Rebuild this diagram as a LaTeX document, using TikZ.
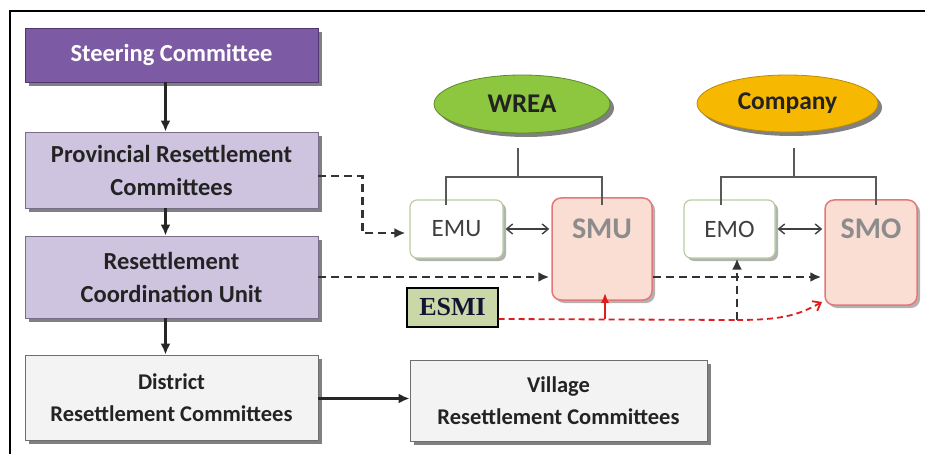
\documentclass[tikz,border=0pt]{standalone}
\usepackage{fontspec}
\setmainfont{Carlito}
\newfontfamily\esmifont{Liberation Serif}
\usetikzlibrary{shadows,arrows.meta,shapes.geometric}
\definecolor{steerfill}{RGB}{124,90,164}
\definecolor{steerdraw}{RGB}{80,55,115}
\definecolor{lpfill}{RGB}{207,196,223}
\definecolor{lpdraw}{RGB}{120,110,135}
\definecolor{grfill}{RGB}{243,243,243}
\definecolor{grdraw}{RGB}{110,110,110}
\definecolor{wreafill}{RGB}{141,198,63}
\definecolor{wreadraw}{RGB}{90,140,40}
\definecolor{compfill}{RGB}{246,184,0}
\definecolor{compdraw}{RGB}{190,140,0}
\definecolor{eborder}{RGB}{185,205,160}
\definecolor{sfill}{RGB}{251,222,211}
\definecolor{sborder}{RGB}{228,120,120}
\definecolor{esmifill}{RGB}{201,216,166}
\definecolor{txt}{RGB}{35,35,35}
\definecolor{redline}{RGB}{220,30,30}
\begin{document}
\begin{tikzpicture}[x=1pt,y=1pt,
  shad/.style={drop shadow={shadow xshift=4pt,shadow yshift=-4pt,fill=black!50,opacity=1}},
  bigbox/.style={rectangle,shad,minimum width=293pt,align=center,text=txt,
    font=\fontsize{24.5}{33}\selectfont\bfseries,line width=0.8pt},
  steerbox/.style={bigbox,fill=steerfill,draw=steerdraw,text=white},
  purplebox/.style={bigbox,fill=lpfill,draw=lpdraw},
  greybox/.style={bigbox,fill=grfill,draw=grdraw,font=\fontsize{22.5}{32}\selectfont\bfseries},
  oval/.style={ellipse,shad,line width=0.8pt,text=txt,font=\bfseries},
  ebox/.style={rectangle,rounded corners=7pt,fill=white,draw=eborder,line width=1.2pt,
    drop shadow={shadow xshift=3pt,shadow yshift=-3pt,fill=black!30,opacity=1},
    text=black!75,font=\fontsize{25}{28}\selectfont},
  sbox/.style={rectangle,rounded corners=9pt,fill=sfill,draw=sborder,line width=1.5pt,
    drop shadow={shadow xshift=3pt,shadow yshift=-3pt,fill=black!30,opacity=1}},
  stext/.style={text=black!45,font=\fontsize{30}{32}\selectfont\bfseries},
  arr/.style={-{Latex[length=11pt,width=10pt]},line width=2.6pt,black!85},
  dsh/.style={dashed,dash pattern=on 8pt off 5pt,line width=2.5pt,black!80},
  dtip/.style={-{Latex[length=11pt,width=10pt]}},
  tree/.style={line width=1.4pt,black!65},
  dbl/.style={{Straight Barb[length=6pt,width=10pt]}-{Straight Barb[length=6pt,width=10pt]},line width=1.4pt,black!75},
  reddash/.style={dashed,dash pattern=on 6pt off 4pt,line width=1.8pt,redline}
]
\useasboundingbox (0,0) rectangle (925,-454);
\fill[white] (0,0) rectangle (925,-454);
\draw[line width=1.6pt] (10,-454) -- (10,-11) -- (925,-11);

% left column
\node[steerbox,minimum height=54pt] (steer) at (171.5,-55) {Steering Committee};
\node[purplebox,minimum height=76pt] (prov) at (171.5,-170) {Provincial Resettlement\\Committees};
\node[purplebox,minimum height=82pt] (rcu) at (171.5,-277) {Resettlement\\Coordination Unit};
\node[greybox,minimum height=85pt] (dist) at (171.5,-397.5) {District\\Resettlement Committees};
\node[greybox,minimum width=297pt,minimum height=81pt] (vill) at (558.5,-400.5) {Village\\Resettlement Committees};

% ovals
\node[oval,fill=wreafill,draw=wreadraw,minimum width=176pt,minimum height=58pt,font=\fontsize{27}{30}\selectfont\bfseries] (wrea) at (522,-104) {WREA};
\node[oval,fill=compfill,draw=compdraw,minimum width=181pt,minimum height=57pt,font=\fontsize{25.5}{30}\selectfont\bfseries] (comp) at (787.5,-103.5) {Company};

% units
\node[ebox,minimum width=93pt,minimum height=58pt] (emu) at (456.5,-229) {EMU};
\node[sbox,minimum width=100pt,minimum height=102pt,label={[stext,yshift=20pt]center:SMU}] (smu) at (602,-249) {};
\node[ebox,minimum width=91pt,minimum height=58pt] (emo) at (729.5,-229) {EMO};
\node[sbox,minimum width=92pt,minimum height=105pt,label={[stext,yshift=24pt]center:SMO}] (smo) at (871,-252.5) {};
\node[rectangle,fill=esmifill,draw=black,line width=1.2pt,minimum width=91pt,minimum height=39pt,
  font=\esmifont\fontsize{26}{28}\selectfont\bfseries,text={rgb,255:red,20;green,20;blue,50}] (esmi) at (452.5,-307.5) {ESMI};

% tree lines
\coordinate (wtop) at (518,-148);
\coordinate (wj) at (518,-177);
\coordinate (wl) at (446,-205);
\coordinate (wr) at (602,-205);
\draw[tree] (wtop) -- (wj);
\draw[tree] (wl) |- (wj) -| (wr);
\coordinate (ctop) at (794,-148);
\coordinate (cj) at (794,-177);
\coordinate (cl) at (721,-205);
\coordinate (cr) at (876,-205);
\draw[tree] (ctop) -- (cj);
\draw[tree] (cl) |- (cj) -| (cr);

% vertical arrows
\draw[arr] ([xshift=-6pt]steer.south) -- ([xshift=-6pt]prov.north);
\draw[arr] ([xshift=-6pt]prov.south) -- ([xshift=-6pt]rcu.north);
\draw[arr] ([xshift=-6pt]rcu.south) -- ([xshift=-6pt]dist.north);
\draw[arr] ([yshift=-1pt]dist.east) -- ([yshift=-1pt]dist.east -| vill.west);

% double arrows
\draw[dbl] ([xshift=2pt]emu.east) -- ([xshift=-2pt]emu.east -| smu.west);
\draw[dbl] ([xshift=2pt]emo.east) -- ([xshift=-2pt]emo.east -| smo.west);

% dashed connectors
\draw[dsh,dtip] ([yshift=-6pt]prov.east) -- ++(44,0) |- ([yshift=-4pt,xshift=-4pt]emu.west);
\draw[dsh,dtip] (rcu.east) -- ([xshift=-2pt]rcu.east -| smu.west);
\draw[dsh,dtip] (rcu.east -| smu.east) -- ([xshift=-3pt]rcu.east -| smo.west);
\coordinate (ecorner) at (737,-320);
\draw[dsh,dtip] (ecorner) -- (ecorner |- emo.south);

% red connectors
\coordinate (rs) at (605,-319);
\coordinate (rend) at (822,-302);
\draw[reddash] ([yshift=-11.5pt]esmi.east) -- (ecorner);
\draw[reddash,-{Straight Barb[length=7pt,width=11pt]}] (ecorner) .. controls (785,-320) and (800,-314) .. (rend);
\draw[redline,line width=2pt,-{Latex[length=10pt,width=8pt]}] (rs) -- ([yshift=8pt]smu.south -| rs);
\end{tikzpicture}
\end{document}
